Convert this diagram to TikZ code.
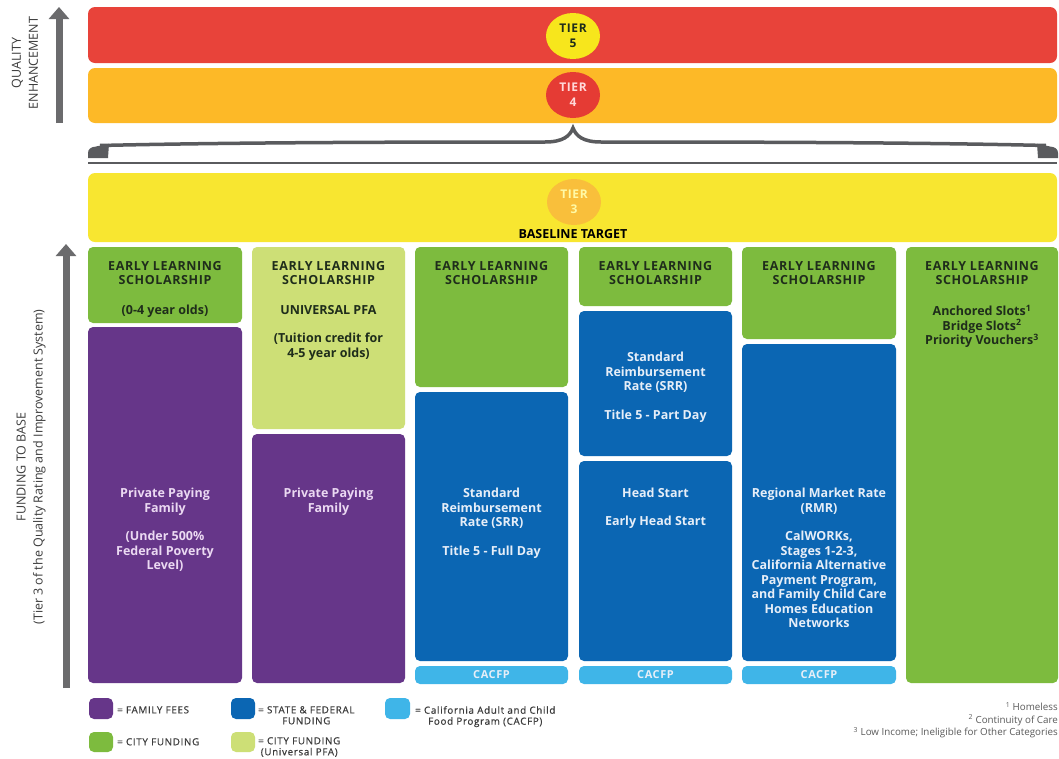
\documentclass[tikz,border=0pt]{standalone}
\usepackage{fontspec}
\setmainfont{Open Sans}
\newfontfamily\hdfont[LetterSpace=5]{Open Sans}
\newfontfamily\lgfont[LetterSpace=7,FakeBold=0.6]{Open Sans}
\usetikzlibrary{arrows.meta,shapes.geometric}
\definecolor{tred}{HTML}{E8433A}
\definecolor{torange}{HTML}{FDB927}
\definecolor{tyellow}{HTML}{F8E630}
\definecolor{cfive}{HTML}{F7E61C}
\definecolor{cfour}{HTML}{E53B34}
\definecolor{cthree}{HTML}{F9BF3B}
\definecolor{egreen}{HTML}{7DBB3E}
\definecolor{lgreen}{HTML}{CDDF76}
\definecolor{fpurple}{HTML}{663689}
\definecolor{sblue}{HTML}{0B66B3}
\definecolor{cblue}{HTML}{3FB5E8}
\definecolor{agray}{HTML}{6B6B6D}
\definecolor{bgray}{HTML}{5A5B5E}
\definecolor{dtext}{HTML}{1F2D1B}
\definecolor{ptext}{HTML}{EBD9F2}
\definecolor{btext}{HTML}{E6EEF8}
\definecolor{lgtext}{HTML}{3C3C3C}
\definecolor{fntext}{HTML}{5A5A5A}
\tikzset{
  band/.style={rounded corners=7pt},
  cell/.style={rounded corners=5pt},
  hd/.style={anchor=north, inner sep=0pt, align=center, text=dtext,
    font=\hdfont\bfseries\fontsize{12.5}{14.5}\selectfont},
  bd/.style={anchor=north, inner sep=0pt, align=center,
    font=\bfseries\fontsize{12.5}{14.5}\selectfont},
  tierc/.style={ellipse, inner sep=0pt, minimum width=54pt, minimum height=46pt,
    align=center, font=\hdfont\bfseries\fontsize{12}{15}\selectfont},
  cac/.style={inner sep=0pt, text=btext, font=\hdfont\bfseries\fontsize{11}{12}\selectfont},
  axis/.style={agray, line width=7pt, -{Triangle[width=20pt,length=12pt]}},
  axlab/.style={rotate=90, inner sep=0pt, align=center, text=lgtext,
    font=\fontsize{12.5}{17}\selectfont},
  sq/.style={rounded corners=5pt},
  lg/.style={anchor=north west, inner sep=0pt, align=center, text=lgtext,
    font=\lgfont\fontsize{9.8}{11}\selectfont},
  fn/.style={anchor=north east, inner sep=0pt, align=right, text=fntext,
    font=\fontsize{9.8}{12.5}\selectfont}
}
\begin{document}
\begin{tikzpicture}[x=1pt,y=-1pt]
\useasboundingbox (0,0) rectangle (1059,758);
\fill[white] (0,0) rectangle (1059,758);

% tier bands
\fill[band, tred] (88,7) rectangle (1057,63);
\fill[band, torange] (88,68) rectangle (1057,123);
\fill[band, tyellow] (88,173) rectangle (1057,242);
\node[tierc, fill=cfive, text=dtext] (t5) at (573,36) {TIER\\5};
\node[tierc, fill=cfour, text=white!85!red] (t4) at (573,95) {TIER\\4};
\node[tierc, fill=cthree, text=yellow!35!white] (t3) at (574,202) {TIER\\3};
\node[anchor=north, inner sep=0pt, text=black, font=\bfseries\fontsize{12.5}{14}\selectfont] (bt) at (573,229) {BASELINE TARGET};

% brace
\draw[bgray, line width=3.5pt] (100,145.5) .. controls (250,142) and (450,142) .. (545,142)
  .. controls (563,142) and (570,136) .. (573,128)
  .. controls (576,136) and (583,142) .. (601,142)
  .. controls (700,142) and (900,142) .. (1046,145.5);
\fill[bgray] (88,158) -- (88,153) .. controls (88,149) and (91,147) .. (96,146.5) -- (109,143.8) -- (108,158) -- cycle;
\fill[bgray] (1058,158) -- (1058,153) .. controls (1058,149) and (1055,147) .. (1050,146.5) -- (1037,143.8) -- (1038,158) -- cycle;
\draw[bgray, line width=1.8pt] (88,163) -- (1057,163);

% axes
\coordinate (qa) at (59,123);
\coordinate (qb) at (59,7);
\draw[axis] (qa) -- (qb);
\node[axlab] (qel) at (25,63) {QUALITY\\ENHANCEMENT};
\coordinate (fa) at (66,688);
\coordinate (fb) at (66,244);
\draw[axis] (fa) -- (fb);
\node[axlab] (fbl) at (31,467) {FUNDING TO BASE\\(Tier 3 of the Quality Rating and Improvement System)};

% column 1
\fill[cell, egreen] (88,247) rectangle (242,323);
\fill[cell, fpurple] (88,327) rectangle (242,683);
\node[hd] (h1) at (165,261) {EARLY LEARNING\\SCHOLARSHIP};
\node[bd, text=dtext] (g1) at (165,305) {(0-4 year olds)};
\node[bd, text=ptext] (p1) at (165,488) {Private Paying\\Family\\[14pt](Under 500\%\\Federal Poverty\\Level)};

% column 2
\fill[cell, lgreen] (252,247) rectangle (405,429);
\fill[cell, fpurple] (252,434) rectangle (405,683);
\node[hd] (h2) at (328.5,261) {EARLY LEARNING\\SCHOLARSHIP};
\node[bd, text=dtext] (g2) at (328.5,305) {UNIVERSAL PFA\\[14pt](Tuition credit for\\4-5 year olds)};
\node[bd, text=ptext] (p2) at (328.5,488) {Private Paying\\Family};

% column 3
\fill[cell, egreen] (415,247) rectangle (568,387);
\fill[cell, sblue] (415,392) rectangle (568,661);
\fill[cell, cblue] (415,666) rectangle (568,684);
\node[hd] (h3) at (491.5,261) {EARLY LEARNING\\SCHOLARSHIP};
\node[bd, text=btext] (b3) at (491.5,488) {Standard\\Reimbursement\\Rate (SRR)\\[14pt]Title 5 - Full Day};
\node[cac] (c3) at (491.5,675) {CACFP};

% column 4
\fill[cell, egreen] (579,247) rectangle (732,306);
\fill[cell, sblue] (579,311) rectangle (732,456);
\fill[cell, sblue] (579,461) rectangle (732,661);
\fill[cell, cblue] (579,666) rectangle (732,684);
\node[hd] (h4) at (655.5,261) {EARLY LEARNING\\SCHOLARSHIP};
\node[bd, text=btext] (b4a) at (655.5,352) {Standard\\Reimbursement\\Rate (SRR)\\[14pt]Title 5 - Part Day};
\node[bd, text=btext] (b4b) at (655.5,488) {Head Start\\[13pt]Early Head Start};
\node[cac] (c4) at (655.5,675) {CACFP};

% column 5
\fill[cell, egreen] (742,247) rectangle (896,339);
\fill[cell, sblue] (742,344) rectangle (896,661);
\fill[cell, cblue] (742,666) rectangle (896,684);
\node[hd] (h5) at (819,261) {EARLY LEARNING\\SCHOLARSHIP};
\node[bd, text=btext] (b5) at (819,488) {Regional Market Rate\\(RMR)\\[14pt]CalWORKs,\\Stages 1-2-3,\\California Alternative\\Payment Program,\\and Family Child Care\\Homes Education\\Networks};
\node[cac] (c5) at (819,675) {CACFP};

% column 6
\fill[cell, egreen] (906,247) rectangle (1058,683);
\node[hd] (h6) at (982,261) {EARLY LEARNING\\SCHOLARSHIP};
\node[bd, text=dtext] (g6) at (982,305) {Anchored Slots\textsuperscript{1}\\Bridge Slots\textsuperscript{2}\\Priority Vouchers\textsuperscript{3}};

% legend
\fill[sq, fpurple] (89,698) rectangle (113,719);
\node[lg] (l1) at (117,706) {= FAMILY FEES};
\fill[sq, sblue] (231,698) rectangle (255,719);
\node[lg] (l2) at (258,706) {= STATE \& FEDERAL\\FUNDING};
\fill[sq, cblue] (385,698) rectangle (410,719);
\node[lg] (l3) at (415,706) {= California Adult and Child\\Food Program (CACFP)};
\fill[sq, egreen] (89,732) rectangle (113,752);
\node[lg] (l4) at (117,738) {= CITY FUNDING};
\fill[sq, lgreen] (231,732) rectangle (255,752);
\node[lg] (l5) at (258,737) {= CITY FUNDING\\(Universal PFA)};

% footnotes
\node[fn] (fn) at (1058,702) {\textsuperscript{1} Homeless\\\textsuperscript{2} Continuity of Care\\\textsuperscript{3} Low Income; Ineligible for Other Categories};
\end{tikzpicture}
\end{document}
